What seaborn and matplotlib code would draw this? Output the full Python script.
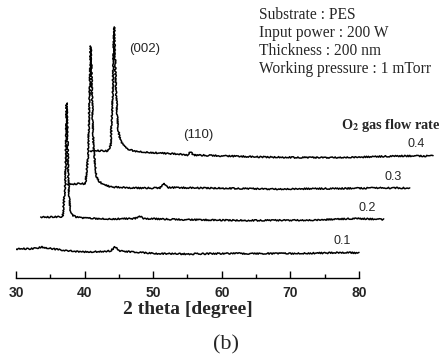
import numpy as np
import pandas as pd
import seaborn as sns
import matplotlib.pyplot as plt

# O2 flow rate series (each curve, own 2theta scale)
rates = ['0.1', '0.2', '0.3', '0.4']

tt_01 = [30, 31, 32, 33, 33.8, 35, 36.5, 38, 40, 42, 43.8, 44.4, 45.2, 47, 50, 55, 60, 65, 70, 75, 78, 80]
i_01 = [3, 3.5, 3, 4, 5, 3.5, 2, 1, 0, 0.5, 1, 5, 1, 0, -1.5, -2, -1.5, -1.5, -1.5, -1, -0.5, -1]

tt_02 = [30, 32, 33.2, 33.55, 33.8, 34.05, 34.3, 34.6, 35.2, 36, 40, 43.8, 44.4, 45, 50, 60, 70, 76, 80]
i_02 = [2, 2, 2.5, 30, 116, 35, 10, 4, 2, 1, 0, 0.5, 3, 0.5, -0.5, -1.5, -1, 0.5, -0.5]

tt_03 = [30, 31, 32, 32.7, 33.1, 33.5, 33.9, 34.3, 34.8, 35.5, 36.5, 40, 43.6, 44.1, 44.7, 50, 55, 60, 70, 75, 80]
i_03 = [4, 4, 4.5, 4, 30, 142, 40, 12, 6, 3, 1, 0, 0, 5, 0.5, 0, -0.5, -1, -0.5, 0, 0]

tt_04 = [30, 31, 32, 32.6, 33.0, 33.25, 33.5, 33.8, 34.1, 34.4, 34.8, 35.4, 36.5, 37.7, 40,
         42.7, 44.2, 44.6, 45.1, 50, 55, 60, 65, 70, 75, 80]
i_04 = [4, 4.5, 4, 4, 10, 50, 128, 60, 25, 15, 10, 6, 4, 3, 2,
        1, 0, 3, 0, -1, -2, -2.5, -2.5, -2, -1, -1]

# waterfall offsets (degrees to the right, intensity upwards)
shift_x = [0, 3.6, 7.4, 10.8]
base_y = [13, 46, 77, 110]

curves = [(tt_01, i_01), (tt_02, i_02), (tt_03, i_03), (tt_04, i_04)]

sns.set_style('white')
plt.rcParams['font.family'] = ['Liberation Sans', 'DejaVu Sans']

fig = plt.figure(figsize=(4.42, 3.59), dpi=100)
W, H = 442, 359
ax = fig.add_axes([16 / W, 81 / H, 424 / W, 278 / H])

for r, (tt, ii), dx, dy in zip(rates, curves, shift_x, base_y):
    d = pd.DataFrame({'x': np.array(tt) + dx, 'y': np.array(ii) + dy})
    sns.lineplot(data=d, x='x', y='y', color='black', lw=1.1, ax=ax, sort=False)
    ax.text(77.6 + dx, dy + 11, r, fontsize=9, ha='center', va='center')

# noisy look of the measured scans
for ln in ax.lines:
    ln.set_sketch_params(scale=0.7, length=1.5, randomness=3)

ax.set_xlim(30, 30 + 424 / 6.86)
ax.set_ylim(-13, 265)
for s in ['top', 'right', 'left']:
    ax.spines[s].set_visible(False)
ax.spines['bottom'].set_bounds(30, 80)
ax.spines['bottom'].set_linewidth(1.0)
ax.spines['bottom'].set_color('black')
ax.set_xticks([30, 40, 50, 60, 70, 80])
ax.set_xticks([35, 45, 55, 65, 75], minor=True)
ax.tick_params(axis='x', which='major', direction='in', length=5, width=1, color='black',
               pad=6, bottom=True)
ax.tick_params(axis='x', which='minor', direction='in', length=3, width=1, color='black', bottom=True)
ax.set_xticklabels(['30', '40', '50', '60', '70', '80'], fontsize=10, fontweight='bold')
ax.set_yticks([])
ax.set_xlabel('')
ax.set_ylabel('')
ax.patch.set_alpha(0)

# peak labels
ax.text(48.8, 216, '(002)', fontsize=9.5, ha='center', va='center')
ax.text(56.5, 130, '(110)', fontsize=9.5, ha='center', va='center')

serif = ['Liberation Serif', 'DejaVu Serif']
plt.rcParams['mathtext.fontset'] = 'stix'
info = ['Substrate : PES', 'Input power : 200 W', 'Thickness : 200 nm', 'Working pressure : 1 mTorr']
for k, t in enumerate(info):
    fig.text(259 / W, 1 - (15 + 17.9 * k) / H, t, family=serif, fontsize=11.2, va='center', ha='left')

fig.text(441 / W, 1 - 126 / H, r'O$_\mathbf{2}$ gas flow rate', family=serif, fontsize=10.3,
         fontweight='bold', ha='right', va='center')
fig.text(188 / W, 1 - 310 / H, '2 theta [degree]', family=serif, fontsize=14,
         fontweight='bold', ha='center', va='center')
fig.text(226 / W, 1 - 345 / H, '(b)', family=serif, fontsize=16, ha='center', va='center')

fig.savefig('out.png', dpi=100)
